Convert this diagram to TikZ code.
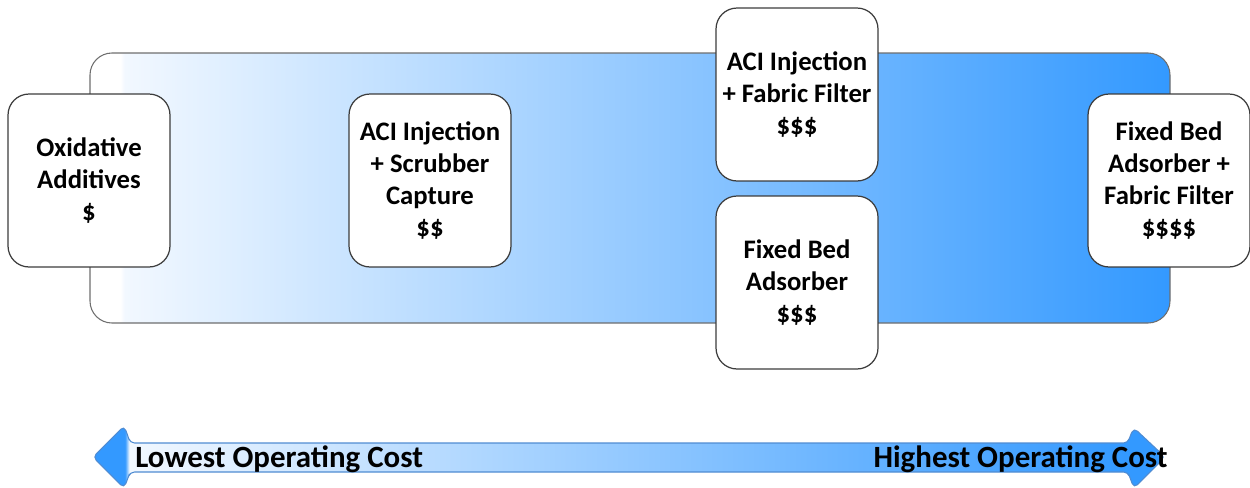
\documentclass[tikz,border=0pt]{standalone}
\usepackage{fontspec}
\setmainfont{Carlito}
\definecolor{blueA}{RGB}{51,153,255}
\definecolor{bandL}{RGB}{242,248,255}
\definecolor{bandborder}{RGB}{110,110,110}
\definecolor{boxborder}{RGB}{60,60,60}
\definecolor{arrowborder}{RGB}{80,140,210}
\pgfdeclarehorizontalshading{bandshade}{100bp}{color(0bp)=(white); color(25bp)=(white); color(26.4bp)=(white); color(26.6bp)=(bandL); color(75bp)=(blueA); color(100bp)=(blueA)}
\pgfdeclarehorizontalshading{arrowshade}{100bp}{color(0bp)=(blueA); color(26.5bp)=(blueA); color(26.7bp)=(bandL); color(73.2bp)=(blueA); color(100bp)=(blueA)}
\tikzset{
  costbox/.style={draw=boxborder, fill=white, line width=0.7pt, rounded corners=0.42cm,
    minimum width=3.24cm, minimum height=3.46cm, align=center, inner sep=2pt,
    font=\fontsize{15.2}{18.2}\selectfont\bfseries},
  costlabel/.style={font=\fontsize{17.6}{20}\selectfont\bfseries, inner sep=0pt}
}
\begin{document}
\begin{tikzpicture}[x=0.02cm, y=-0.02cm]
\useasboundingbox (0,0) rectangle (1250,487);
% band
\shadedraw[shading=bandshade, draw=bandborder, line width=0.6pt, rounded corners=0.44cm]
  (90,53) rectangle (1170,323);
% boxes
\node[costbox] (ox) at (89,180.5) {Oxidative\\Additives\\\$};
\node[costbox] (scr) at (430,180.5) {ACI Injection\\+ Scrubber\\Capture\\\$\$};
\node[costbox] (ff) at (797,94.5) {ACI Injection\\+ Fabric Filter\\\$\$\$};
\node[costbox] (fb) at (797,282.5) {Fixed Bed\\Adsorber\\\$\$\$};
\node[costbox] (fbff) at (1169,180.5) {Fixed Bed\\Adsorber +\\Fabric Filter\\\$\$\$\$};
% cost arrow
\shadedraw[shading=arrowshade, draw=arrowborder, line width=0.6pt, rounded corners=0.09cm]
  (93,457) -- (124,426) -- (128,436) -- (130,443) -- (1128,443) -- (1130,436) -- (1134,428)
  -- (1165,457) -- (1134,488) -- (1130,478) -- (1128,472) -- (130,472) -- (128,478)
  -- (124,488) -- cycle;
\node[costlabel, anchor=west] (low) at (135,459) {Lowest Operating Cost};
\node[costlabel, anchor=east] (high) at (1168,459) {Highest Operating Cost};
\end{tikzpicture}
\end{document}
